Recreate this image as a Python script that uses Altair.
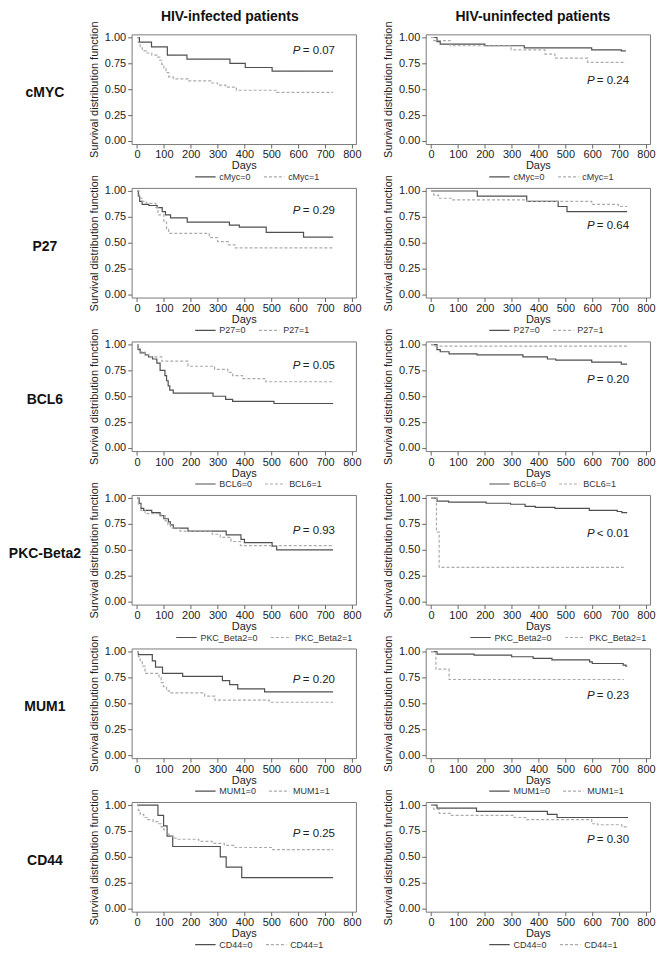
import altair as alt
import pandas as pd

FONT = "Liberation Sans"
DARK = "#4f4f4f"
LIGHT = "#ababab"
TEXT = "#222222"

# ---------------- data: Kaplan-Meier step points (day, survival) ----------------
# cMYC
cmyc_inf_0 = [(0, 1.0), (9, 0.955), (54, 0.91), (113, 0.83), (186, 0.79), (346, 0.75),
              (403, 0.71), (503, 0.675), (730, 0.675)]
cmyc_inf_1 = [(0, 1.0), (5, 0.95), (12, 0.90), (20, 0.87), (35, 0.85), (55, 0.83), (75, 0.81),
              (85, 0.78), (92, 0.74), (100, 0.70), (108, 0.66), (118, 0.62), (135, 0.60),
              (190, 0.58), (275, 0.56), (300, 0.54), (330, 0.52), (370, 0.49), (520, 0.47),
              (730, 0.47)]
cmyc_uninf_0 = [(0, 1.0), (22, 0.96), (34, 0.935), (200, 0.92), (347, 0.90), (598, 0.88),
                (708, 0.87), (725, 0.87)]
cmyc_uninf_1 = [(0, 1.0), (10, 0.97), (71, 0.92), (298, 0.88), (424, 0.84), (461, 0.80),
                (583, 0.76), (725, 0.76)]
# P27
p27_inf_0 = [(0, 1.0), (5, 0.95), (10, 0.90), (19, 0.87), (44, 0.86), (75, 0.84), (94, 0.80),
             (106, 0.77), (125, 0.74), (187, 0.70), (344, 0.67), (381, 0.65), (481, 0.60),
             (620, 0.555), (730, 0.555)]
p27_inf_1 = [(0, 1.0), (8, 0.93), (20, 0.90), (35, 0.88), (70, 0.84), (78, 0.77), (100, 0.70),
             (110, 0.63), (118, 0.59), (269, 0.55), (300, 0.51), (340, 0.48), (365, 0.45),
             (730, 0.45)]
p27_uninf_0 = [(0, 1.0), (172, 0.95), (356, 0.90), (473, 0.85), (506, 0.80), (730, 0.80)]
p27_uninf_1 = [(0, 1.0), (10, 0.96), (28, 0.93), (80, 0.915), (356, 0.90), (598, 0.87),
               (697, 0.85), (730, 0.85)]
# BCL6
bcl6_inf_0 = [(0, 1.0), (4, 0.95), (12, 0.92), (31, 0.90), (43, 0.88), (58, 0.86), (74, 0.82),
              (86, 0.75), (104, 0.70), (110, 0.65), (116, 0.60), (122, 0.56), (135, 0.53),
              (283, 0.50), (330, 0.47), (356, 0.45), (510, 0.43), (730, 0.43)]
bcl6_inf_1 = [(0, 1.0), (5, 0.96), (12, 0.93), (30, 0.90), (50, 0.88), (92, 0.84), (190, 0.79),
              (289, 0.76), (338, 0.73), (356, 0.70), (393, 0.67), (479, 0.64), (730, 0.64)]
bcl6_uninf_0 = [(0, 1.0), (22, 0.95), (34, 0.93), (67, 0.91), (171, 0.90), (342, 0.88),
                (433, 0.86), (464, 0.85), (598, 0.83), (708, 0.81), (730, 0.81)]
bcl6_uninf_1 = [(0, 1.0), (15, 0.985), (730, 0.985)]
# PKC-Beta2
pkc_inf_0 = [(0, 1.0), (8, 0.95), (15, 0.90), (25, 0.88), (55, 0.86), (86, 0.83), (100, 0.80),
             (117, 0.77), (124, 0.74), (135, 0.71), (190, 0.68), (332, 0.645), (387, 0.60),
             (400, 0.57), (503, 0.535), (520, 0.50), (730, 0.50)]
pkc_inf_1 = [(0, 1.0), (5, 0.93), (15, 0.88), (30, 0.85), (90, 0.83), (105, 0.78), (115, 0.74),
             (125, 0.71), (160, 0.68), (280, 0.65), (310, 0.62), (350, 0.58), (385, 0.54),
             (730, 0.54)]
pkc_uninf_0 = [(0, 1.0), (22, 0.97), (65, 0.96), (205, 0.95), (296, 0.94), (350, 0.92),
               (388, 0.91), (461, 0.90), (589, 0.88), (693, 0.87), (710, 0.86), (730, 0.86)]
pkc_uninf_1 = [(0, 1.0), (20, 0.67), (30, 0.33), (717, 0.33)]
# MUM1
mum1_inf_0 = [(0, 1.0), (5, 0.97), (57, 0.91), (69, 0.85), (95, 0.79), (170, 0.76),
              (318, 0.72), (345, 0.68), (375, 0.64), (475, 0.61), (730, 0.61)]
mum1_inf_1 = [(0, 1.0), (5, 0.95), (12, 0.90), (20, 0.86), (30, 0.79), (82, 0.75), (90, 0.70),
              (98, 0.66), (110, 0.62), (120, 0.60), (252, 0.57), (290, 0.53), (492, 0.51),
              (730, 0.51)]
mum1_uninf_0 = [(0, 1.0), (22, 0.975), (160, 0.965), (300, 0.95), (380, 0.935), (450, 0.92),
                (590, 0.90), (600, 0.885), (715, 0.87), (725, 0.86), (730, 0.86)]
mum1_uninf_1 = [(0, 1.0), (18, 0.83), (67, 0.73), (718, 0.73)]
# CD44
cd44_inf_0 = [(0, 1.0), (78, 0.90), (99, 0.80), (112, 0.70), (133, 0.60), (310, 0.50),
              (332, 0.40), (390, 0.30), (730, 0.30)]
cd44_inf_1 = [(0, 1.0), (5, 0.95), (12, 0.91), (25, 0.88), (40, 0.86), (60, 0.84), (80, 0.82),
              (90, 0.79), (100, 0.76), (110, 0.72), (120, 0.70), (135, 0.68), (150, 0.67),
              (230, 0.65), (280, 0.63), (325, 0.61), (365, 0.59), (505, 0.57), (730, 0.57)]
cd44_uninf_0 = [(0, 1.0), (22, 0.97), (169, 0.94), (433, 0.91), (469, 0.88), (733, 0.88)]
cd44_uninf_1 = [(0, 1.0), (10, 0.96), (30, 0.92), (71, 0.90), (310, 0.88), (353, 0.86),
                (598, 0.82), (620, 0.81), (710, 0.79), (733, 0.79)]

ROW_LABELS = ["cMYC", "P27", "BCL6", "PKC-Beta2", "MUM1", "CD44"]
GROUP_PREFIX = ["cMyc", "P27", "BCL6", "PKC_Beta2", "MUM1", "CD44"]
COLUMN_TITLES = ["HIV-infected patients", "HIV-uninfected patients"]
P_INFECTED = ["= 0.07", "= 0.29", "= 0.05", "= 0.93", "= 0.20", "= 0.25"]
P_UNINFECTED = ["= 0.24", "= 0.64", "= 0.20", "< 0.01", "= 0.23", "= 0.30"]
X_TICKS = [0, 100, 200, 300, 400, 500, 600, 700, 800]
Y_TICKS = [0.0, 0.25, 0.5, 0.75, 1.0]

CURVES_INF = [(cmyc_inf_0, cmyc_inf_1), (p27_inf_0, p27_inf_1), (bcl6_inf_0, bcl6_inf_1),
              (pkc_inf_0, pkc_inf_1), (mum1_inf_0, mum1_inf_1), (cd44_inf_0, cd44_inf_1)]
CURVES_UNINF = [(cmyc_uninf_0, cmyc_uninf_1), (p27_uninf_0, p27_uninf_1),
                (bcl6_uninf_0, bcl6_uninf_1), (pkc_uninf_0, pkc_uninf_1),
                (mum1_uninf_0, mum1_uninf_1), (cd44_uninf_0, cd44_uninf_1)]

# annotation placement (style)
P_X = 580
P_Y_INF = [0.866, 0.81, 0.79, 0.685, 0.73, 0.72]
P_Y_UNINF = [0.58, 0.665, 0.655, 0.655, 0.57, 0.665]

W, H = 225, 110

XS = alt.Scale(domain=[-20, 815], nice=False, zero=False)
YS = alt.Scale(domain=[-0.03, 1.03], nice=False, zero=False)
XAX = alt.Axis(values=X_TICKS, title="Days", grid=False, domain=False, tickSize=4,
               tickColor="#666666", labelFont=FONT, labelFontSize=11, labelColor=TEXT,
               labelPadding=1, labelOverlap=False, labelFlush=False, titleFont=FONT,
               titleFontSize=11, titleFontWeight="normal", titleColor=TEXT, titlePadding=0)
YAX = alt.Axis(values=Y_TICKS, format=".2f", title="Survival distribution function",
               grid=False, domain=False, tickSize=4, tickColor="#666666", labelFont=FONT,
               labelFontSize=11, labelColor=TEXT, labelPadding=2, labelOverlap=False,
               labelFlush=False, titleFont=FONT, titleFontSize=11, titleFontWeight="normal",
               titleColor=TEXT, titlePadding=5)


def panel(c0, c1, prefix, ptxt, py, legend_x, title=None, title_dx=0):
    g0, g1 = f"{prefix}=0", f"{prefix}=1"
    rows = [{"day": t, "surv": s, "group": g0} for t, s in c0]
    rows += [{"day": t, "surv": s, "group": g1} for t, s in c1]
    df = pd.DataFrame(rows)
    xenc = alt.X("day:Q", scale=XS, axis=XAX)
    yenc = alt.Y("surv:Q", scale=YS, axis=YAX)
    leg = alt.Legend(orient="none", legendX=legend_x, legendY=132, direction="horizontal",
                     title=None, symbolType="stroke", symbolSize=420, symbolStrokeWidth=1.2,
                     labelFont=FONT, labelFontSize=9, labelColor="#333333", columnPadding=10,
                     labelOffset=3, padding=0)
    lines = alt.Chart(df).mark_line(interpolate="step-after", strokeWidth=1.2).encode(
        x=xenc,
        y=yenc,
        color=alt.Color("group:N", scale=alt.Scale(domain=[g0, g1], range=[DARK, LIGHT]),
                        legend=leg),
        strokeDash=alt.StrokeDash("group:N",
                                  scale=alt.Scale(domain=[g0, g1], range=[[1, 0], [3, 2]]),
                                  legend=leg),
    )
    pdf = pd.DataFrame({"day": [P_X], "surv": [py], "p": ["P"], "v": [ptxt]})
    pmark = alt.Chart(pdf).mark_text(font=FONT, fontSize=11.5, fontStyle="italic",
                                     align="left", baseline="middle", color=TEXT).encode(
        x=xenc, y=yenc, text="p:N")
    vmark = alt.Chart(pdf).mark_text(font=FONT, fontSize=11.5, align="left",
                                     baseline="middle", color=TEXT, dx=10).encode(
        x=xenc, y=yenc, text="v:N")
    ch = alt.layer(lines, pmark, vmark).properties(width=W, height=H)
    if title:
        ch = ch.properties(title=alt.TitleParams(title, font=FONT, fontSize=14,
                                                 fontWeight="bold", color="#111111",
                                                 anchor="middle", frame="group",
                                                 dx=title_dx, offset=-3))
    return ch


def label_chart(text):
    return alt.Chart(pd.DataFrame({"t": [text]})).mark_text(
        font=FONT, fontSize=14, fontWeight="bold", align="center", baseline="middle",
        color="#111111").encode(text="t:N", x=alt.value(35), y=alt.value(59)).properties(
        width=52, height=H, view=alt.ViewBackground(strokeOpacity=0))


cells = []
for i in range(6):
    lx = 44 if len(GROUP_PREFIX[i]) > 5 else 63
    cells.append(label_chart(ROW_LABELS[i]))
    cells.append(panel(CURVES_INF[i][0], CURVES_INF[i][1], GROUP_PREFIX[i], P_INFECTED[i],
                       P_Y_INF[i], lx, COLUMN_TITLES[0] if i == 0 else None, -14))
    cells.append(panel(CURVES_UNINF[i][0], CURVES_UNINF[i][1], GROUP_PREFIX[i],
                       P_UNINFECTED[i], P_Y_UNINF[i], lx,
                       COLUMN_TITLES[1] if i == 0 else None, -5))

chart = alt.concat(*cells, columns=3, spacing=alt.RowColnumber(row=44, column=70),
                   bounds="flush", align="each").resolve_scale(
    color="independent", strokeDash="independent").resolve_legend(
    color="independent", strokeDash="independent").properties(padding=0).configure_view(
    stroke="#7a7a7a", strokeWidth=1)

chart.save("out.html", embed_options={"renderer": "svg", "actions": False})
